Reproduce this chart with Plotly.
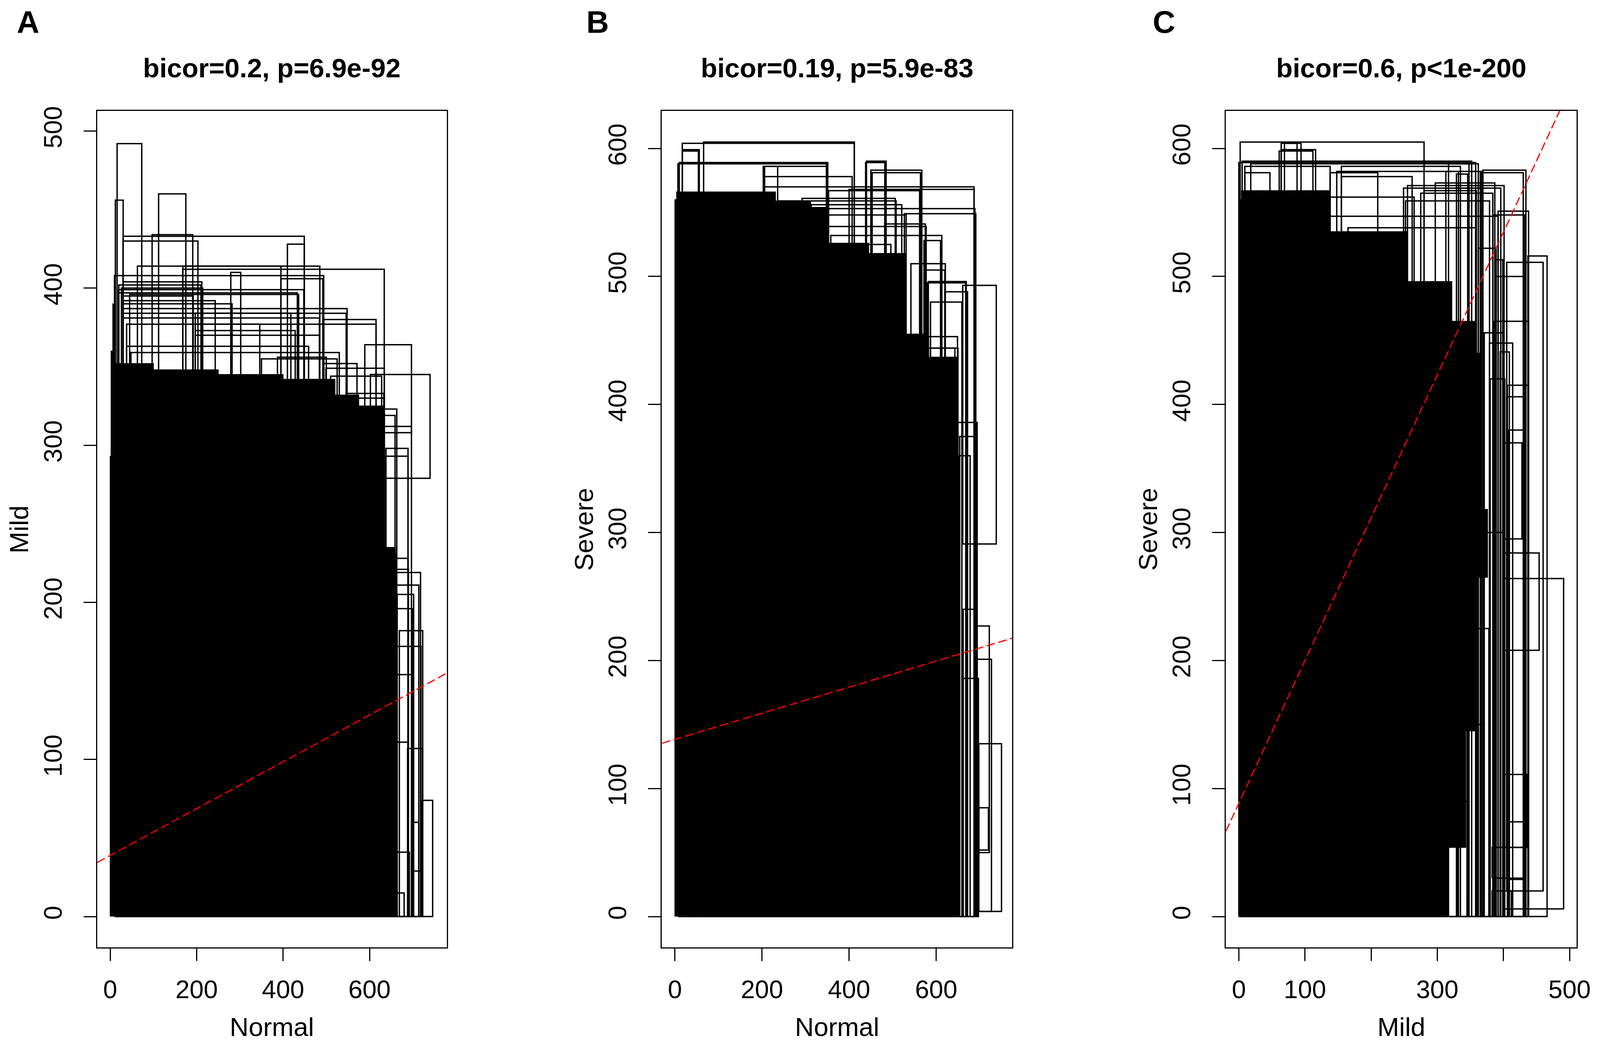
import plotly.graph_objects as go

# ---- panel A : Normal vs Mild ----
# outline of the solid black mass
a_env_x = [0, 0, 2, 2, 6, 6, 12, 12, 100, 100, 250, 250, 400, 400, 520, 520, 575, 575, 633, 633, 660, 660]
a_env_y = [0, 293, 293, 360, 360, 390, 390, 352, 352, 348, 348, 345, 345, 342, 342, 332, 332, 325, 325, 235, 235, 0]
# rectangles that stand out of the mass (left, right, bottom, top)
a_x0 = [16, 12, 112, 30, 97, 30, 410, 63, 168, 168, 395, 279, 26, 45, 197, 197, 589, 602, 350, 499, 544, 637, 499,
        640, 651, 660, 660, 660, 660, 688, 697, 721, 660, 699, 660, 655,
        10, 30, 20, 20, 20, 30, 30, 30, 30, 30, 30, 494, 38, 197, 197, 38, 48, 387, 494, 510, 546, 633, 633, 638,
        653, 643, 664, 669]
a_x1 = [73, 30, 175, 449, 191, 203, 449, 485, 395, 634, 492, 302, 214, 436, 546, 615, 697, 740, 525, 634, 659, 689, 634,
        660, 690, 714, 699, 719, 698, 723, 714, 746, 689, 719, 692, 680,
        494, 212, 210, 448, 433, 192, 243, 282, 548, 418, 484, 615, 346, 428, 484, 459, 530, 500, 571, 628, 633, 663, 697, 689,
        718, 689, 702, 723]
a_y0 = [0, 0, 0, 0, 0, 0, 0, 0, 0, 0, 0, 0, 0, 0, 0, 0, 308, 279, 0, 0, 0, 0, 0,
        0, 0, 0, 0, 0, 0, 0, 0, 0, 0, 0, 0, 0,
        0, 0, 0, 0, 0, 0, 0, 0, 0, 0, 0, 0, 0, 0, 0, 0, 0, 0, 0, 0, 0, 0, 0, 0,
        0, 0, 0, 0]
a_y1 = [492, 456, 460, 433, 434, 430, 428, 414, 414, 412, 406, 410, 400, 396, 384, 377, 364, 345, 355, 349, 319, 293, 330,
        231, 221, 211, 196, 172, 154, 107, 60, 74, 111, 29, 41, 15,
        408, 404, 402, 399, 397, 395, 392, 390, 387, 384, 381, 380, 377, 373, 370, 363, 359, 356, 352, 344, 333, 323, 312, 298,
        219, 228, 205, 182]
a_fit = [38.9, 0.149]  # intercept, slope

# ---- panel B : Normal vs Severe ----
b_env_x = [0, 0, 4, 4, 231, 231, 312, 312, 353, 353, 445, 445, 531, 531, 582, 582, 650, 650]
b_env_y = [0, 560, 560, 566, 566, 559, 559, 554, 554, 526, 526, 518, 518, 455, 455, 437, 437, 0]
b_x0 = [17, 66, 17, 7, 438, 453, 203, 400, 527, 482, 572, 575, 579, 661, 620, 575, 654, 694, 694, 698, 698, 662, 662,
        17, 440, 10, 206, 450, 206, 206, 353, 292, 236, 313, 313, 236, 343, 358, 358, 542, 582, 587, 582, 587, 648, 653]
b_x1 = [412, 412, 54, 348, 482, 564, 348, 687, 691, 575, 610, 620, 668, 738, 672, 650, 694, 722, 727, 750, 720, 692, 697,
        56, 485, 351, 236, 567, 407, 687, 562, 506, 508, 521, 689, 531, 577, 613, 496, 621, 669, 659, 649, 643, 694, 678]
b_y0 = [0, 0, 0, 0, 0, 0, 0, 0, 0, 0, 0, 0, 0, 291, 0, 0, 0, 50, 4, 4, 52, 0, 0,
        0, 0, 0, 0, 0, 0, 0, 0, 0, 0, 0, 0, 0, 0, 0, 0, 0, 0, 0, 0, 0, 0, 0]
b_y1 = [604, 605, 598, 588, 589, 581, 586, 568, 549, 541, 528, 505, 495, 493, 488, 444, 375, 227, 201, 135, 85, 240, 186,
        599, 590, 589, 586, 583, 578, 570, 567, 561, 559, 556, 553, 548, 539, 532, 525, 510, 496, 480, 453, 444, 386, 360]
b_fit = [138.4, 0.102]

# ---- panel C : Mild vs Severe ----
c_env_x = [0, 0, 4, 4, 138, 138, 255, 255, 322, 322, 359, 359, 366, 366, 376, 376, 357, 357, 343, 343, 316, 316]
c_env_y = [0, 560, 560, 567, 567, 535, 535, 496, 496, 465, 465, 440, 440, 318, 318, 265, 265, 145, 145, 54, 54, 0]
c_x0 = [2, 64, 61, 0, 18, 313, 365, 148, 329, 249, 275, 384, 405, 362, 371, 395, 405, 402, 400, 400, 400, 383, 383, 405,
        316, 330, 345, 360, 380,
        69, 64, 5, 317, 9, 155, 369, 9, 138, 155, 297, 255, 280, 138, 252, 392, 138, 165, 437, 389, 389, 386, 379, 406, 408]
c_x1 = [280, 88, 112, 358, 348, 367, 430, 332, 346, 396, 384, 432, 460, 389, 400, 409, 432, 428, 454, 491, 436, 430, 412, 432,
        345, 370, 378, 400, 402,
        94, 116, 352, 362, 138, 335, 434, 47, 210, 262, 387, 401, 359, 265, 379, 438, 392, 359, 466, 399, 432, 438, 414, 438, 433]
c_y0 = [0, 0, 0, 0, 0, 0, 0, 0, 0, 0, 0, 0, 20, 0, 0, 0, 29, 295, 208, 6, 54, 30, 0, 54,
        0, 0, 0, 0, 0,
        0, 0, 0, 0, 0, 0, 0, 0, 0, 0, 0, 0, 0, 0, 0, 0, 0, 0, 0, 0, 0, 0, 0, 0, 0]
c_y1 = [605, 604, 598, 589, 588, 582, 581, 582, 580, 569, 565, 548, 511, 522, 456, 441, 406, 370, 284, 264, 111, 54, 20, 74,
        90, 150, 225, 300, 420,
        604, 599, 590, 588, 586, 586, 583, 581, 581, 578, 573, 571, 567, 562, 559, 551, 547, 538, 516, 513, 500, 465, 448, 415, 380]
c_fit = [88.5, 1.115]

titles = ["bicor=0.2, p=6.9e-92", "bicor=0.19, p=5.9e-83", "bicor=0.6, p<1e-200"]
letters = ["A", "B", "C"]
x_titles = ["Normal", "Normal", "Mild"]
y_titles = ["Mild", "Severe", "Severe"]
x_ranges = [[-29.96, 778.96], [-29.8, 774.8], [-19.64, 510.64]]
y_ranges = [[-19.72, 512.72], [-24.2, 629.2], [-24.2, 629.2]]
x_tickvals = [[0, 200, 400, 600], [0, 200, 400, 600], [0, 100, 200, 300, 400, 500]]
x_ticktext = [["0", "200", "400", "600"], ["0", "200", "400", "600"], ["0", "100", "", "300", "", "500"]]
y_tickvals = [[0, 100, 200, 300, 400, 500], [0, 100, 200, 300, 400, 500, 600], [0, 100, 200, 300, 400, 500, 600]]

# layout measured on the 4403x2676 reference, used as fractions (figure fills the window)
REF_W, REF_H = 4403, 2676
box_left = [260, 1820, 3378]
box_right = [1226, 2788, 4347]
box_top, box_bottom = 278, 2433
S = 0.93  # text / tick scale


def fx(p):
    return p / REF_W


def fy(p):
    return 1 - p / REF_H


FONT = "Liberation Sans, Arial, sans-serif"

panels = [
    (a_env_x, a_env_y, a_x0, a_x1, a_y0, a_y1, a_fit),
    (b_env_x, b_env_y, b_x0, b_x1, b_y0, b_y1, b_fit),
    (c_env_x, c_env_y, c_x0, c_x1, c_y0, c_y1, c_fit),
]

fig = go.Figure()
annotations = []

for i, (ex, ey, x0, x1, y0, y1, fit) in enumerate(panels):
    xa = 'x' if i == 0 else 'x%d' % (i + 1)
    ya = 'y' if i == 0 else 'y%d' % (i + 1)

    # dense black mass
    fig.add_trace(go.Scatter(x=ex, y=ey, xaxis=xa, yaxis=ya, mode='lines', fill='toself',
                             fillcolor='black', line=dict(color='black', width=2), hoverinfo='skip'))

    # rectangle outlines
    rx, ry = [], []
    for a, b, c, d in zip(x0, x1, y0, y1):
        rx += [a, b, b, a, a, None]
        ry += [c, c, d, d, c, None]
    fig.add_trace(go.Scatter(x=rx, y=ry, xaxis=xa, yaxis=ya, mode='lines',
                             line=dict(color='black', width=3.5), hoverinfo='skip'))

    # fitted line (abline)
    lx = x_ranges[i]
    ly = [fit[0] + fit[1] * v for v in lx]
    fig.add_trace(go.Scatter(x=lx, y=ly, xaxis=xa, yaxis=ya, mode='lines',
                             line=dict(color='red', width=3, dash='22px,9px'), hoverinfo='skip'))

    dom_x = [fx(box_left[i]), fx(box_right[i])]
    dom_y = [fy(box_bottom), fy(box_top)]
    axis_common = dict(showline=True, mirror=True, linecolor='black', linewidth=3, showgrid=False,
                       zeroline=False, ticks='outside', ticklen=round(34 * S), tickwidth=3, tickcolor='black',
                       tickfont=dict(family=FONT, size=round(70 * S), color='black'))
    fig.update_layout({
        ('xaxis' if i == 0 else 'xaxis%d' % (i + 1)): dict(
            domain=dom_x, range=x_ranges[i], anchor=ya, tickmode='array',
            tickvals=x_tickvals[i], ticktext=x_ticktext[i], ticklabelstandoff=round(18 * S), **axis_common),
        ('yaxis' if i == 0 else 'yaxis%d' % (i + 1)): dict(
            domain=dom_y, range=y_ranges[i], anchor=xa, tickmode='array',
            tickvals=y_tickvals[i], tickangle=-90, ticklabelstandoff=round(32 * S), **axis_common),
    })

    cx = (box_left[i] + box_right[i]) / 2
    annotations.append(dict(text="<b>%s</b>" % titles[i], x=fx(cx), y=fy(168), xref='paper', yref='paper',
                            xanchor='center', yanchor='middle', showarrow=False,
                            font=dict(family=FONT, size=round(74 * S), color='black')))
    annotations.append(dict(text=x_titles[i], x=fx(cx), y=fy(2637), xref='paper', yref='paper',
                            xanchor='center', yanchor='middle', showarrow=False,
                            font=dict(family=FONT, size=round(72 * S), color='black')))
    annotations.append(dict(text=y_titles[i], x=fx(box_left[i] - 216), y=fy((box_top + box_bottom) / 2),
                            xref='paper', yref='paper', xanchor='center', yanchor='middle', textangle=-90,
                            showarrow=False, font=dict(family=FONT, size=round(72 * S), color='black')))

letter_x = [69, 1642, 3207]
for i in range(3):
    annotations.append(dict(text="<b>%s</b>" % letters[i], x=fx(letter_x[i]), y=fy(2), xref='paper',
                            yref='paper', xanchor='center', yanchor='top', showarrow=False,
                            font=dict(family=FONT, size=round(86 * S), color='black')))

fig.update_layout(autosize=True, margin=dict(l=0, r=0, t=0, b=0, autoexpand=False), showlegend=False,
                  plot_bgcolor='white', paper_bgcolor='white', annotations=annotations)

fig.write_html("out.html", default_width='calc(100vw - 16px)', default_height='calc(100vh - 16px)')
